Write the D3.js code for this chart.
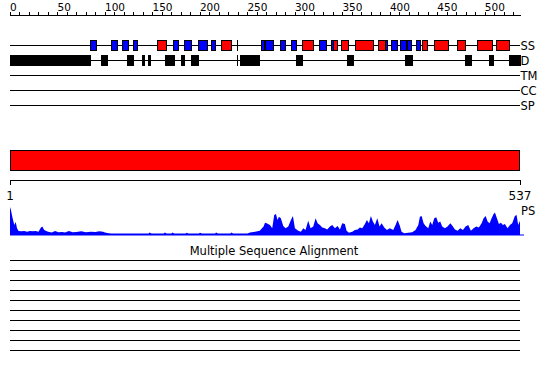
<!DOCTYPE html>
<html>
<head>
<meta charset="utf-8">
<script src="https://cdn.jsdelivr.net/npm/d3@7"></script>
<style>
  html, body { margin: 0; padding: 0; background: #fff; }
  svg { display: block; }
  text { font-family: "DejaVu Sans", sans-serif; fill: #000; }
</style>
</head>
<body>
<svg id="chart" width="550" height="380"></svg>
<script>
// ---------- data ----------
const seqLength = 537;
const axisTicks = d3.range(0, 531, 10);
const axisLabels = [0, 50, 100, 150, 200, 250, 300, 350, 400, 450, 500];

const trackNames = ["SS", "D", "TM", "CC", "SP"];

// secondary structure: strands (blue) and helices (red), [start, end] residues
const ssStrands = [[84,91],[106,113],[118,124],[129,134],[172,177],[183,191],[198,207],[212,216],
  [264,267],[269,277],[284,290],[296,301],[325,333],[338,340],[395,397],[401,407],[411,417],
  [418,422],[427,432]];
const ssHelices = [[155,164],[222,233],[267,269],[307,319],[340,344],[349,356],[363,382],
  [387,395],[434,439],[446,461],[471,479],[492,507],[512,525]];
const ssMarks = [239];

// disorder regions
const disorder = [[0,84],[96,102],[123,130],[139,141],[145,147],[163,173],[180,183],[191,198],
  [242,262],[301,304],[305,307],[355,361],[416,418],[419,423],[479,485],[504,509],[525,537]];
const disorderMarks = [239];

// domain bar
const domains = [[0, 537]];
const rulerLabels = [1, 537];

// PS profile (residue, score 0-100)
const psResidue = [0,1,2.4,4.5,6,7.4,9,12,15,18,21,24,27,30,32.6,34,36,40,44,47.5,51,55,58,62,66,70,75,80,85,90,94,98,100,104,107,
  120,146,147,149,162,163,165,170,171,173,185,186,188,199,200,202,216,217,219,232,233,235,250,252.7,258,263,267,268.5,
  270.2,273.7,276.1,278.2,280,281.7,283.1,285.2,287.7,290.2,293,295.8,297.9,300,303.5,306.3,308.8,311.2,314,316.5,319.3,
  321.8,323.9,326.3,328.8,331.6,334,336.9,339.3,342.1,344.9,347.4,349.8,352.6,354.4,356.9,360.4,363.2,366,368.4,370.9,
  373.7,375.8,377.9,380,382.1,384.2,386.7,389.1,391.3,394.1,396.9,400,403.5,406,408.1,410.2,412.3,415.1,419.3,423.5,427,
  429.9,431.6,433.4,435.5,437.6,440.4,442.5,444.6,446.7,448.8,450.9,453,455.1,457.9,460.7,463.6,466,468.5,471.3,474.1,
  476.9,479.7,482.5,485.3,488.1,490.9,493.7,496.6,498.7,500.8,502.9,505,507.1,509.2,510.6,512.7,514.8,516.9,519,521.1,
  523.9,526.4,528.8,531.6,533.4,535.1,537];
const psScore = [100,89,65,36,46,24,14,13,14,12,14,13,14,12,27,30,18,12,9,14,10,11,9,14,10,11,13,10,12,11,13,12,9,6,5,
  5,5,9,5,5,9,5,5,9,5,5,8,5,5,8,5,5,9,5,5,9,5,5,9,12,15,30,44,
  42,36,24,71,75,54,65,60,32,24,30,54,68,24,15,12,24,18,51,24,30,
  60,42,36,27,24,20,30,36,24,32,20,42,39,15,8,12,18,20,27,24,
  39,54,42,68,48,36,60,30,42,27,18,24,18,36,54,36,12,6,8,10,18,
  36,65,68,42,32,24,48,36,60,63,44,48,30,24,30,42,32,20,15,24,
  18,30,36,15,24,30,27,42,60,68,48,42,60,75,80,60,39,44,36,39,
  24,36,42,68,71,36,51];

const msaTitle = "Multiple Sequence Alignment";
const msaRows = d3.range(10);

// ---------- drawing ----------
const svg = d3.select("#chart");
const x = d3.scaleLinear().domain([0, seqLength]).range([10, 520]);

// top axis
const axisY = 15;
const topAxis = svg.append("g");
topAxis.append("line").attr("x1", x(0)).attr("x2", x(seqLength) + 1).attr("y1", axisY + 0.5).attr("y2", axisY + 0.5)
  .attr("stroke", "#000").attr("shape-rendering", "crispEdges");
topAxis.selectAll("line.tick").data(axisTicks).join("line").attr("class", "tick")
  .attr("x1", d => Math.round(x(d)) + 0.5).attr("x2", d => Math.round(x(d)) + 0.5)
  .attr("y1", axisY - 3).attr("y2", axisY + 0.5)
  .attr("stroke", "#000").attr("shape-rendering", "crispEdges");
topAxis.selectAll("text").data(axisLabels).join("text")
  .attr("x", d => x(d)).attr("y", 10.5)
  .attr("font-size", 10.5).text(d => d);

// tracks
const trackY = d3.scalePoint().domain(trackNames).range([45, 105]);
const tracks = svg.append("g");
tracks.selectAll("line").data(trackNames).join("line")
  .attr("x1", x(0)).attr("x2", x(seqLength))
  .attr("y1", d => trackY(d) + 0.5).attr("y2", d => trackY(d) + 0.5)
  .attr("stroke", "#000").attr("shape-rendering", "crispEdges");
tracks.selectAll("text").data(trackNames).join("text")
  .attr("x", x(seqLength) + 0.5).attr("y", d => trackY(d) + 4.5)
  .attr("font-size", 11.5).text(d => d);

function boxes(data, track, fill) {
  const y0 = trackY(track) - 5;
  svg.append("g").selectAll("rect").data(data).join("rect")
    .attr("x", d => Math.round(x(d[0])) + 0.5)
    .attr("y", y0 + 0.5)
    .attr("width", d => Math.max(1, Math.round(x(d[1])) - Math.round(x(d[0]))))
    .attr("height", 10)
    .attr("fill", fill).attr("stroke", "#000").attr("shape-rendering", "crispEdges");
}
function marks(data, track) {
  const y0 = trackY(track) - 5;
  svg.append("g").selectAll("line").data(data).join("line")
    .attr("x1", d => Math.round(x(d)) + 0.5).attr("x2", d => Math.round(x(d)) + 0.5)
    .attr("y1", y0).attr("y2", y0 + 11)
    .attr("stroke", "#000").attr("shape-rendering", "crispEdges");
}
boxes(ssStrands, "SS", "#0000ff");
boxes(ssHelices, "SS", "#ff0000");
marks(ssMarks, "SS");
boxes(disorder, "D", "#000");
marks(disorderMarks, "D");

// domain bar
svg.append("g").selectAll("rect").data(domains).join("rect")
  .attr("x", d => x(d[0]) + 0.5).attr("y", 150.5)
  .attr("width", d => x(d[1]) - x(d[0]) - 1).attr("height", 20)
  .attr("fill", "#ff0000").attr("stroke", "#000").attr("shape-rendering", "crispEdges");

// ruler
const ruler = svg.append("g");
ruler.append("line").attr("x1", x(0)).attr("x2", x(seqLength) + 1).attr("y1", 180.5).attr("y2", 180.5)
  .attr("stroke", "#000").attr("shape-rendering", "crispEdges");
ruler.selectAll("line.end").data([0, seqLength]).join("line").attr("class", "end")
  .attr("x1", d => x(d) + 0.5).attr("x2", d => x(d) + 0.5).attr("y1", 180).attr("y2", 185)
  .attr("stroke", "#000").attr("shape-rendering", "crispEdges");
ruler.selectAll("text").data(rulerLabels).join("text")
  .attr("x", (d, i) => i === 0 ? x(0) : x(seqLength))
  .attr("y", 200).attr("text-anchor", "middle").attr("font-size", 12).text(d => d);

// PS profile
const psY = d3.scaleLinear().domain([0, 100]).range([235, 207]);
const psData = psResidue.map((r, i) => [r, psScore[i]]);
svg.append("path").datum(psData)
  .attr("d", d3.area().x(d => x(d[0])).y0(psY(0)).y1(d => psY(d[1])))
  .attr("fill", "#0000ff");
svg.append("line").attr("x1", x(0)).attr("x2", x(seqLength) + 4).attr("y1", 235).attr("y2", 235)
  .attr("stroke", "#0000ff").attr("stroke-width", 1.2);
svg.append("text").attr("x", x(seqLength) + 1).attr("y", 215).attr("font-size", 11.5).text("PS");

// MSA
svg.append("text").attr("x", 274).attr("y", 255).attr("text-anchor", "middle")
  .attr("font-size", 11.5).text(msaTitle);
svg.append("g").selectAll("line").data(msaRows).join("line")
  .attr("x1", x(0)).attr("x2", x(seqLength))
  .attr("y1", d => 260.5 + d * 10).attr("y2", d => 260.5 + d * 10)
  .attr("stroke", "#000").attr("shape-rendering", "crispEdges");
</script>
</body>
</html>
